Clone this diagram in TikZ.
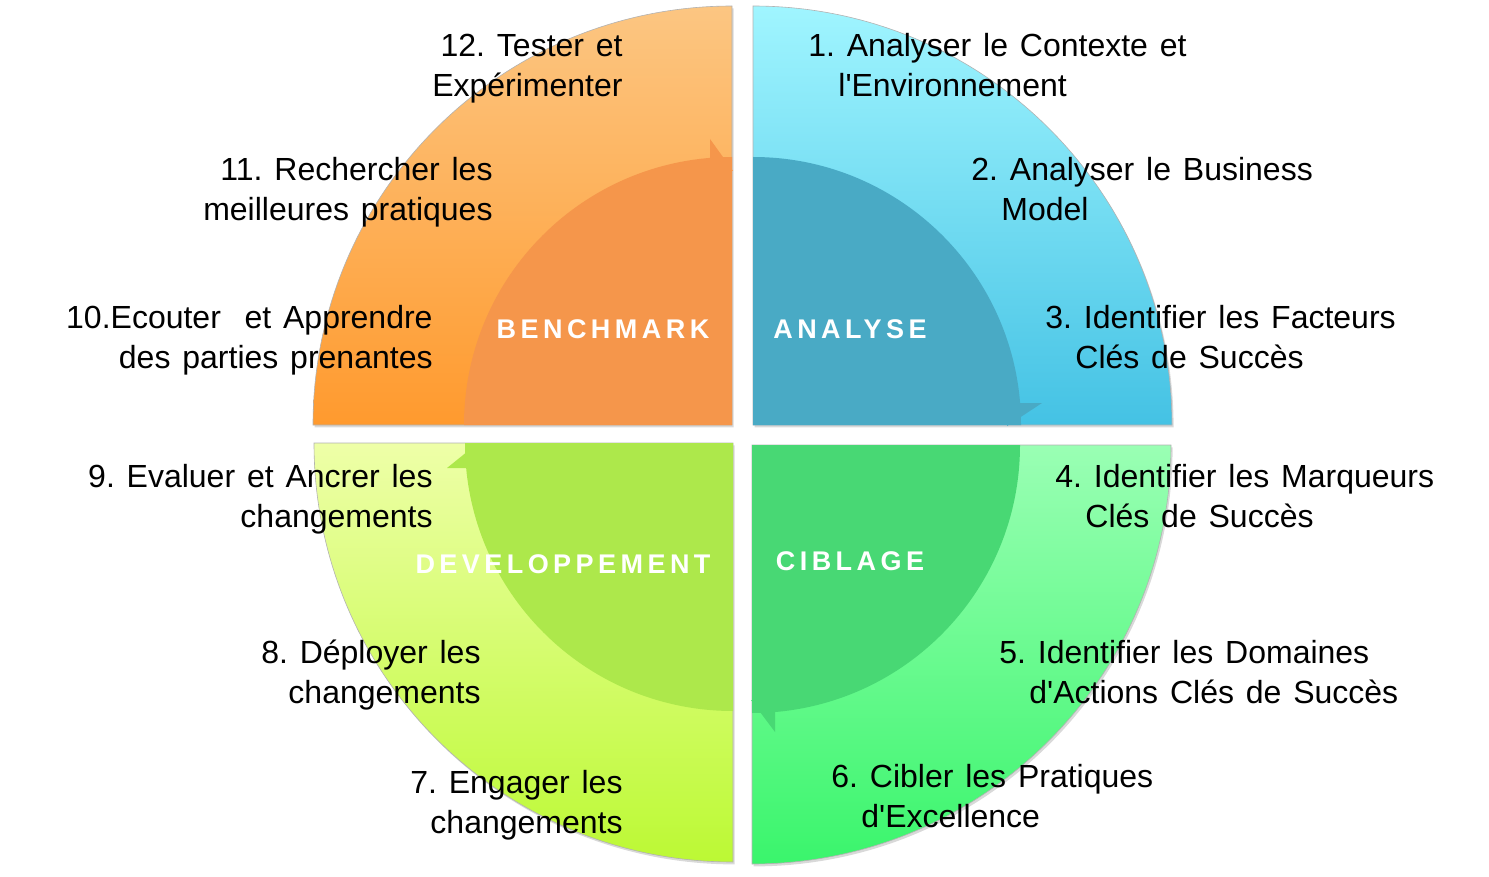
\documentclass[tikz,border=0pt]{standalone}
\usepackage{fontspec}
\setmainfont{Liberation Sans}
\newfontfamily\phasefont[LetterSpace=16.5]{Liberation Sans}
\usetikzlibrary{shadows}

% quarter colours (top / bottom of the gradient, inner disc)
\definecolor{benchTop}{HTML}{FCC682}
\definecolor{benchBot}{HTML}{FF9A2E}
\definecolor{benchIn}{HTML}{F5964B}
\definecolor{anaTop}{HTML}{A0F5FF}
\definecolor{anaBot}{HTML}{44C2E4}
\definecolor{anaIn}{HTML}{49AAC5}
\definecolor{devTop}{HTML}{EEFFA8}
\definecolor{devBot}{HTML}{BCF934}
\definecolor{devIn}{HTML}{ADE84B}
\definecolor{cibTop}{HTML}{9AFFB4}
\definecolor{cibBot}{HTML}{3AF56C}
\definecolor{cibIn}{HTML}{48D874}

% step text: Arial-like, a little wider word spaces
\newcommand{\stagefont}{\fontsize{16}{20}\selectfont\frenchspacing\spaceskip=0.37em plus 0.1em\relax}

\begin{document}
\begin{tikzpicture}[x=0.5pt, y=-0.5pt,
                quarter/.style={draw=black!30, line width=0.3pt,
                               drop shadow={opacity=0.3, shadow xshift=0.8pt, shadow yshift=-1.2pt}},
                stageL/.style={anchor=base east, align=right, inner sep=0pt, font=\stagefont},
                stageR/.style={anchor=base west, align=left, inner sep=0pt, font=\stagefont},
                phase/.style={anchor=base, inner sep=0pt, text=white,
                             font=\phasefont\bfseries\fontsize{13.5}{16}\selectfont}]

                \useasboundingbox (0,0) rectangle (1489,877);

                % Outer quarters
                \path[quarter, top color=benchTop, bottom color=benchBot]
                    (732,425) -- ++(-419,0) arc[start angle=180, end angle=270, radius=419] -- cycle;
                \path[quarter, top color=anaTop, bottom color=anaBot]
                    (753,425) -- ++(0,-419) arc[start angle=270, end angle=360, radius=419] -- cycle;
                \path[quarter, top color=cibTop, bottom color=cibBot]
                    (752,445) -- ++(419,0) arc[start angle=0, end angle=90, radius=419] -- cycle;
                \path[quarter, top color=devTop, bottom color=devBot]
                    (733,443) -- ++(0,419) arc[start angle=90, end angle=180, radius=419] -- cycle;

                % Inner quarters with their arrow barbs (clockwise cycle)
                \fill[benchIn] (732,425) -- ++(-268,0) arc[start angle=180, end angle=270, radius=268] -- cycle;
                \fill[benchIn] (710,139) -- (733,171) -- (710,171) -- cycle;
                \fill[anaIn] (753,425) -- ++(0,-268) arc[start angle=270, end angle=360, radius=268] -- cycle;
                \fill[anaIn] (1042,403) -- (1007,426) -- (1007,403) -- cycle;
                \fill[cibIn] (752,445) -- ++(268,0) arc[start angle=0, end angle=90, radius=268] -- cycle;
                \fill[cibIn] (775,732) -- (751,700) -- (775,700) -- cycle;
                \fill[devIn] (733,443) -- ++(0,268) arc[start angle=90, end angle=180, radius=268] -- cycle;
                \fill[devIn] (447,468) -- (478,443) -- (478,468) -- cycle;

                % Phase names
                \node[phase] (benchmark) at (603,338) {BENCHMARK};
                \node[phase] (analyse) at (850,338) {ANALYSE};
                \node[phase] (developpement) at (563,573) {DEVELOPPEMENT};
                \node[phase] (ciblage) at (850,570) {CIBLAGE};

                % Steps - right side (anchored on the last line)
                \node[stageR] (s1) at (808,97) {1. Analyser le Contexte et\\\hspace*{15pt}l\textquotesingle Environnement};
                \node[stageR] (s2) at (971,221) {2. Analyser le Business\\\hspace*{15pt}Model};
                \node[stageR] (s3) at (1045,368) {3. Identifier les Facteurs\\\hspace*{15pt}Clés de Succès};
                \node[stageR] (s4) at (1055,527) {4. Identifier les Marqueurs\\\hspace*{15pt}Clés de Succès};
                \node[stageR] (s5) at (999,703) {5. Identifier les Domaines\\\hspace*{15pt}d\textquotesingle Actions Clés de Succès};
                \node[stageR] (s6) at (831,827) {6. Cibler les Pratiques\\\hspace*{15pt}d\textquotesingle Excellence};

                % Steps - left side
                \node[stageL] (s7) at (623,833) {7. Engager les\\changements};
                \node[stageL] (s8) at (481,703) {8. Déployer les\\changements};
                \node[stageL] (s9) at (433,527) {9. Evaluer et Ancrer les\\changements};
                \node[stageL] (s10) at (433,368) {10.Ecouter\ \ et Apprendre\\des parties prenantes};
                \node[stageL] (s11) at (493,221) {11. Rechercher les\\meilleures pratiques};
                \node[stageL] (s12) at (623,97) {12. Tester et\\Expérimenter};
            \end{tikzpicture}
\end{document}
